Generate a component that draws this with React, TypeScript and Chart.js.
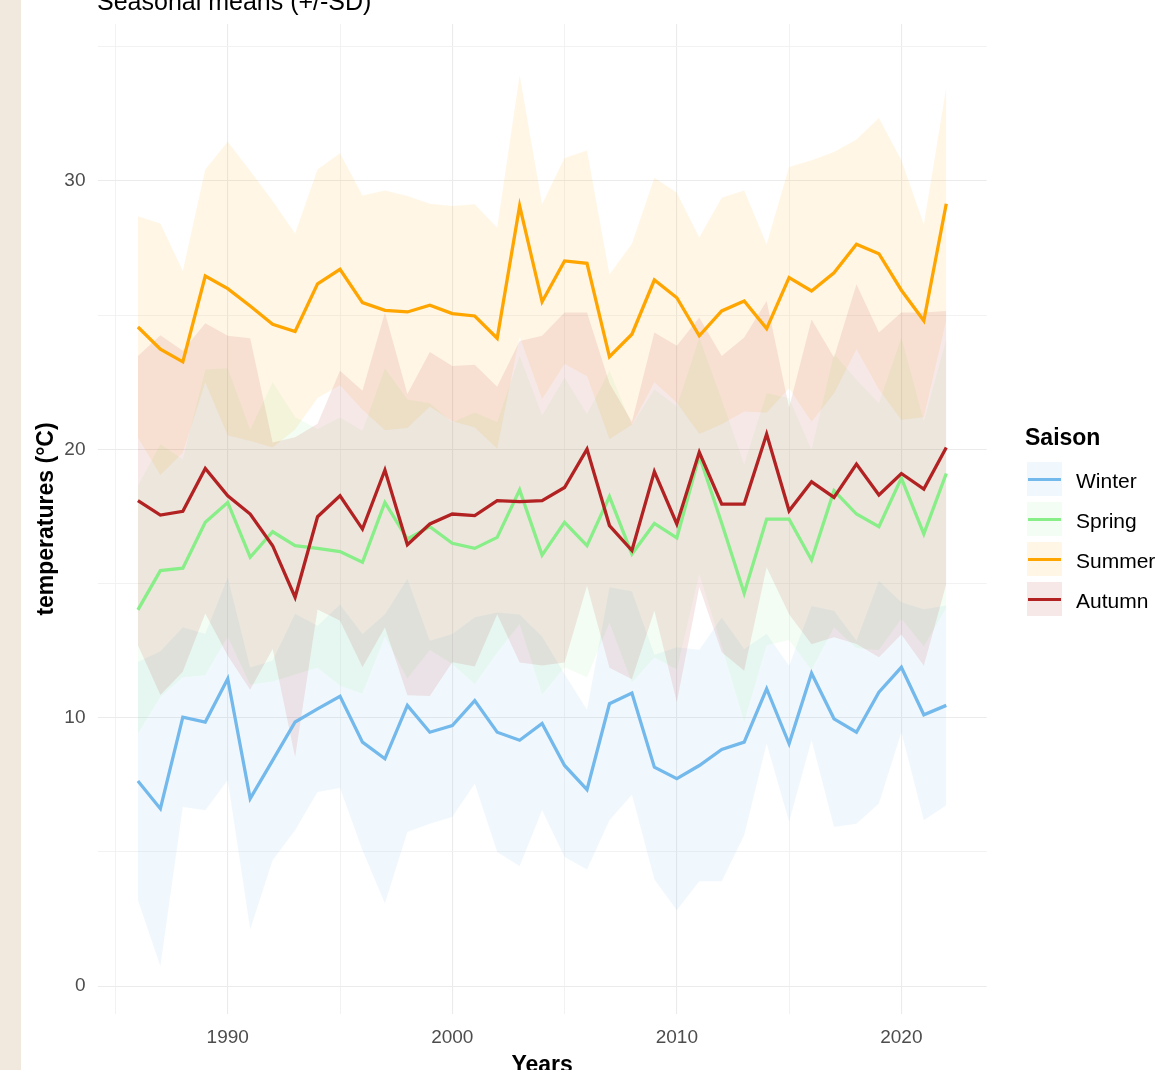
import React, { useEffect, useRef } from 'react';
import { Chart, registerables } from 'chart.js';

Chart.register(...registerables);

// ---------- data ----------
const years = [
  1986, 1987, 1988, 1989, 1990, 1991, 1992, 1993, 1994, 1995, 1996, 1997, 1998,
  1999, 2000, 2001, 2002, 2003, 2004, 2005, 2006, 2007, 2008, 2009, 2010, 2011,
  2012, 2013, 2014, 2015, 2016, 2017, 2018, 2019, 2020, 2021, 2022,
];

const winterMean = [
  7.64, 6.61, 10.02, 9.84, 11.45, 6.99, 8.41, 9.84, 10.33, 10.8, 9.09, 8.47, 10.46,
  9.46, 9.71, 10.64, 9.46, 9.16, 9.79, 8.22, 7.32, 10.52, 10.92, 8.16, 7.73, 8.22,
  8.82, 9.09, 11.08, 9.03, 11.66, 9.96, 9.46, 10.95, 11.88, 10.11, 10.46,
];
const winterSd = [
  4.44, 5.87, 3.35, 3.29, 3.78, 4.88, 3.72, 4.03, 3.1, 3.42, 4.03, 5.39, 4.72,
  3.41, 3.41, 3.1, 4.46, 4.69, 3.24, 3.41, 2.98, 4.34, 3.79, 4.19, 4.9, 4.31,
  4.91, 3.47, 2.05, 2.91, 2.5, 4.03, 3.41, 4.15, 2.42, 3.93, 3.72,
];

const springMean = [
  14.02, 15.48, 15.57, 17.28, 18.02, 15.98, 16.93, 16.41, 16.31, 16.19, 15.79, 18.02, 16.66,
  17.12, 16.5, 16.31, 16.72, 18.49, 16.06, 17.28, 16.41, 18.24, 16.1, 17.24, 16.7, 19.76,
  17.25, 14.64, 17.4, 17.4, 15.88, 18.46, 17.59, 17.12, 18.93, 16.85, 19.1,
];
const springSd = [
  4.62, 4.71, 4.06, 5.7, 5.0, 4.75, 5.58, 4.8, 4.45, 5.0, 4.9, 5.0, 5.2,
  4.6, 4.5, 5.06, 4.3, 5.0, 5.2, 5.4, 4.9, 4.7, 4.8, 5.0, 4.9, 4.4,
  4.6, 4.8, 4.7, 4.5, 4.1, 5.1, 5.0, 4.6, 5.24, 4.2, 5.0,
];

const summerMean = [
  24.56, 23.73, 23.26, 26.46, 25.99, 25.34, 24.66, 24.39, 26.17, 26.71, 25.47, 25.18, 25.12,
  25.37, 25.06, 24.97, 24.14, 29.07, 25.5, 27.02, 26.93, 23.45, 24.29, 26.31, 25.65, 24.23,
  25.16, 25.53, 24.5, 26.4, 25.9, 26.58, 27.64, 27.29, 25.93, 24.79, 29.15,
];
const summerSd = [
  4.13, 4.69, 3.39, 3.97, 5.47, 5.03, 4.59, 3.65, 4.26, 4.32, 3.99, 4.47, 4.32,
  3.78, 4.01, 4.16, 4.12, 4.87, 3.63, 3.84, 4.21, 3.07, 3.37, 3.81, 3.91, 3.66,
  4.22, 4.12, 3.14, 4.12, 4.87, 4.5, 3.91, 5.06, 4.84, 3.59, 4.34,
];

const autumnMean = [
  18.09, 17.55, 17.69, 19.29, 18.27, 17.59, 16.41, 14.49, 17.49, 18.27, 17.03, 19.23, 16.45,
  17.22, 17.59, 17.53, 18.09, 18.05, 18.09, 18.58, 20.01, 17.16, 16.23, 19.17, 17.22, 19.89,
  17.96, 17.96, 20.57, 17.71, 18.79, 18.21, 19.45, 18.3, 19.1, 18.52, 20.07,
];
const autumnSd = [
  5.39, 6.7, 5.98, 5.41, 5.96, 6.55, 3.85, 5.96, 3.46, 4.66, 5.15, 5.87, 5.61,
  6.41, 5.52, 5.62, 4.24, 5.99, 6.14, 6.52, 5.09, 5.3, 4.8, 5.18, 6.64, 5.02,
  5.52, 6.21, 4.96, 3.85, 6.05, 5.21, 6.7, 6.05, 6.0, 6.58, 5.09,
];

const seasons = ['Winter', 'Spring', 'Summer', 'Autumn'];
const lineColors = ['#74B9EC', '#88EE88', '#FFA500', '#B22222'];
const yTicks = [0, 5, 10, 15, 20, 25, 30, 35];
const xTicks = [1985, 1990, 1995, 2000, 2005, 2010, 2015, 2020];

const FILL_ALPHA = 0.1;
const FONT = "'Liberation Sans', Arial, sans-serif";

function rgba(hex: string, a: number) {
  const n = parseInt(hex.slice(1), 16);
  return `rgba(${(n >> 16) & 255},${(n >> 8) & 255},${n & 255},${a})`;
}

export default function App() {
  const canvasRef = useRef<HTMLCanvasElement | null>(null);

  useEffect(() => {
    if (!canvasRef.current) return;
    const means = [winterMean, springMean, summerMean, autumnMean];
    const sds = [winterSd, springSd, summerSd, autumnSd];
    const datasets: any[] = [];

    seasons.forEach((s, k) => {
      datasets.push({
        label: s,
        data: years.map((x, i) => ({ x, y: means[k][i] })),
        borderColor: lineColors[k],
        backgroundColor: lineColors[k],
        borderWidth: 3.3,
        borderJoinStyle: 'miter',
        pointRadius: 0,
        fill: false,
        tension: 0,
        order: 3 - k,
      });
    });

    seasons.forEach((s, k) => {
      const upperIndex = datasets.length;
      datasets.push({
        label: s + ' upper',
        data: years.map((x, i) => ({ x, y: means[k][i] + sds[k][i] })),
        borderColor: 'rgba(0,0,0,0)',
        borderWidth: 0,
        pointRadius: 0,
        fill: false,
        order: 13 - k,
      });
      datasets.push({
        label: s + ' lower',
        data: years.map((x, i) => ({ x, y: means[k][i] - sds[k][i] })),
        borderColor: 'rgba(0,0,0,0)',
        borderWidth: 0,
        pointRadius: 0,
        backgroundColor: rgba(lineColors[k], FILL_ALPHA),
        fill: { target: upperIndex },
        order: 13 - k,
      });
    });

    const gridColor = (c: any) => (c.tick && c.tick.value % 10 === 0 ? '#EBEBEB' : '#F0F0F0');
    const gridWidth = (c: any) => (c.tick && c.tick.value % 10 === 0 ? 1.1 : 0.9);

    const chart = new Chart(canvasRef.current, {
      type: 'line',
      data: { datasets },
      options: {
        animation: false,
        responsive: false,
        devicePixelRatio: 1,
        events: [],
        layout: { padding: { top: 24, right: 183.3, left: 0, bottom: 0 } },
        plugins: {
          legend: { display: false },
          tooltip: { enabled: false },
          title: { display: false },
          filler: { drawTime: 'beforeDatasetsDraw' },
        } as any,
        scales: {
          x: {
            type: 'linear',
            min: 1984.2,
            max: 2023.8,
            afterBuildTicks: (scale: any) => {
              scale.ticks = xTicks.map((v) => ({ value: v }));
            },
            afterFit: (scale: any) => {
              scale.height = 56;
            },
            ticks: {
              callback: (v: any) => (Number(v) % 10 === 0 ? String(v) : ''),
              color: '#4D4D4D',
              font: { family: FONT, size: 19 },
              padding: 12,
              maxRotation: 0,
              autoSkip: false,
            },
            grid: { color: gridColor, lineWidth: gridWidth, drawTicks: false },
            border: { display: false },
            title: {
              display: true,
              text: 'Years',
              color: '#000000',
              font: { family: FONT, size: 23, weight: 'bold', lineHeight: 0.35 },
              padding: { top: 0, bottom: 0 },
            },
          },
          y: {
            type: 'linear',
            min: -1.04,
            max: 35.85,
            afterBuildTicks: (scale: any) => {
              scale.ticks = yTicks.map((v) => ({ value: v }));
            },
            afterFit: (scale: any) => {
              scale.width = 97.5;
            },
            ticks: {
              callback: (v: any) => (Number(v) % 10 === 0 ? String(v) : ''),
              color: '#4D4D4D',
              font: { family: FONT, size: 19 },
              padding: 12,
              autoSkip: false,
            },
            grid: { color: gridColor, lineWidth: gridWidth, drawTicks: false },
            border: { display: false },
            title: {
              display: true,
              text: 'temperatures (°C)',
              color: '#000000',
              font: { family: FONT, size: 23, weight: 'bold', lineHeight: 1.2 },
              padding: { top: 33, bottom: 0 },
            },
          },
        },
      } as any,
    });

    return () => chart.destroy();
  }, []);

  return (
    <div
      style={{
        position: 'absolute',
        left: 0,
        top: 0,
        width: 1170,
        height: 1070,
        overflow: 'hidden',
        background: '#FFFFFF',
        fontFamily: FONT,
      }}
    >
      <canvas
        ref={canvasRef}
        width={1170}
        height={1070}
        style={{ position: 'absolute', left: 0, top: 0, width: 1170, height: 1070 }}
      />
      <div
        style={{
          position: 'absolute',
          left: 0,
          top: 0,
          width: 21,
          height: 1070,
          background: '#F2E9DE',
        }}
      />
      <div
        style={{
          position: 'absolute',
          left: 97,
          top: -11,
          fontSize: 25,
          lineHeight: '25px',
          color: '#000000',
          whiteSpace: 'nowrap',
        }}
      >
        Seasonal means (+/-SD)
      </div>
      <div
        style={{
          position: 'absolute',
          left: 1025,
          top: 425.5,
          fontSize: 23,
          lineHeight: '23px',
          fontWeight: 'bold',
          color: '#000000',
          whiteSpace: 'nowrap',
        }}
      >
        Saison
      </div>
      {seasons.map((s, i) => (
        <React.Fragment key={s}>
          <div
            style={{
              position: 'absolute',
              left: 1027,
              top: 462 + 40 * i,
              width: 35,
              height: 34,
              background: rgba(lineColors[i], FILL_ALPHA),
            }}
          >
            <div
              style={{
                position: 'absolute',
                left: 1,
                top: 15.5,
                width: 33,
                height: 3,
                background: lineColors[i],
              }}
            />
          </div>
          <div
            style={{
              position: 'absolute',
              left: 1076,
              top: 470 + 40 * i,
              fontSize: 21,
              lineHeight: '21px',
              color: '#000000',
              whiteSpace: 'nowrap',
            }}
          >
            {s}
          </div>
        </React.Fragment>
      ))}
    </div>
  );
}
